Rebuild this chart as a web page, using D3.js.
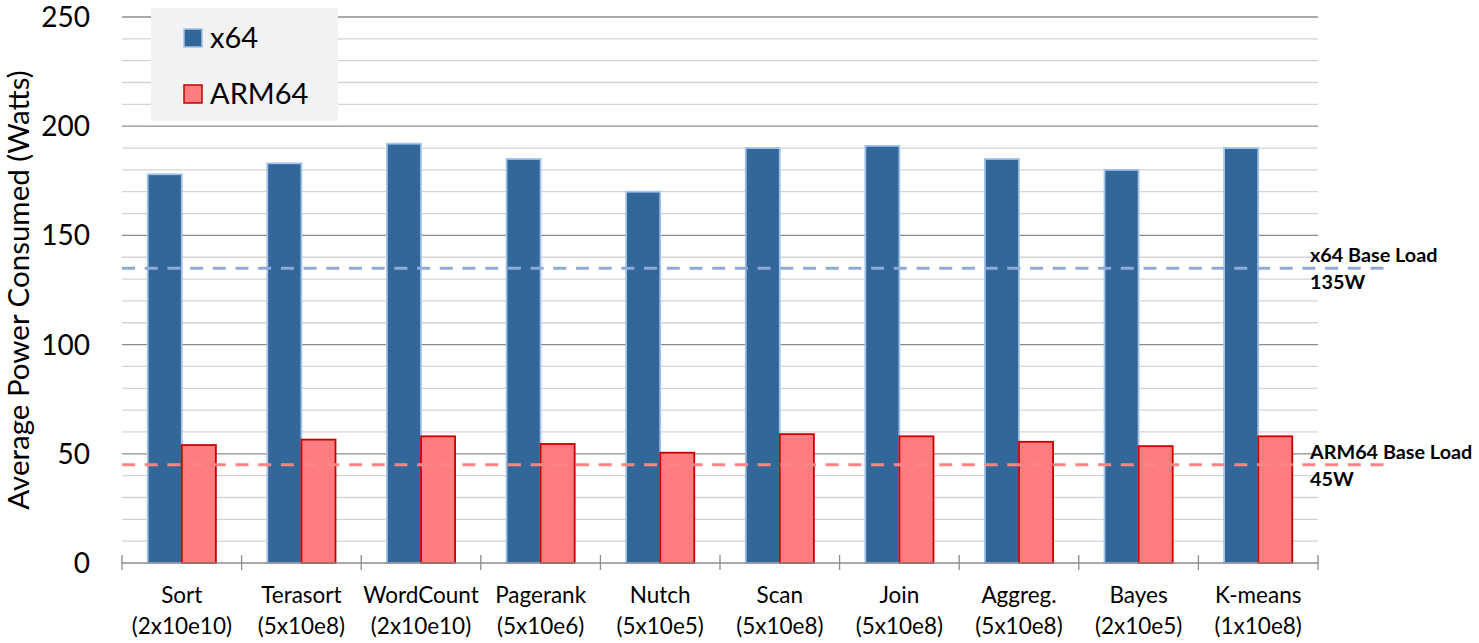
<!DOCTYPE html>
<html>
<head>
<meta charset="utf-8">
<script src="https://cdn.jsdelivr.net/npm/d3@7"></script>
<style>
  body { margin: 0; background: #fff; }
  svg { font-family: Lato, "Open Sans", sans-serif; }
</style>
</head>
<body>
<div id="chart"></div>
<script>
// data
var categories = ["Sort", "Terasort", "WordCount", "Pagerank", "Nutch", "Scan", "Join", "Aggreg.", "Bayes", "K-means"];
var sizes = ["(2x10e10)", "(5x10e8)", "(2x10e10)", "(5x10e6)", "(5x10e5)", "(5x10e8)", "(5x10e8)", "(5x10e8)", "(2x10e5)", "(1x10e8)"];
var x64 = [178, 183, 192, 185, 170, 190, 191, 185, 180, 190];
var arm64 = [54, 56.5, 58, 54.5, 50.5, 59, 58, 55.5, 53.5, 58];
var baseLoads = [
  { name: "x64 Base Load", label: "135W", value: 135, color: "#8eaadb" },
  { name: "ARM64 Base Load", label: "45W", value: 45, color: "#ff8585" }
];
var yTicks = [0, 50, 100, 150, 200, 250];

var width = 1479, height = 643;
var margin = { top: 17, right: 161, bottom: 80, left: 122 };
var chart_width = width - margin.left - margin.right;
var chart_height = 563 - margin.top;

var svg = d3.select("#chart").append("svg")
  .attr("width", width)
  .attr("height", height);

var g = svg.append("g").attr("transform", "translate(" + margin.left + "," + margin.top + ")");

var x = d3.scaleBand().domain(categories).range([0, chart_width]);
var y = d3.scaleLinear().domain([0, 250]).range([chart_height, 0]);
var barW = x.bandwidth() * 0.285;

// gridlines
g.selectAll(".grid")
  .data(d3.range(10, 251, 10))
  .enter().append("line")
  .attr("x1", 0).attr("x2", chart_width)
  .attr("y1", function(d) { return y(d); })
  .attr("y2", function(d) { return y(d); })
  .attr("stroke", function(d) { return d % 50 === 0 ? "#8c8c8c" : "#d4d4d4"; })
  .attr("stroke-width", 1.3);

// y labels
g.selectAll(".ylab")
  .data(yTicks)
  .enter().append("text")
  .attr("x", -32)
  .attr("y", function(d) { return y(d); })
  .attr("dy", "0.36em")
  .attr("text-anchor", "end")
  .attr("font-size", 28)
  .attr("fill", "#000")
  .text(function(d) { return d; });

svg.append("text")
  .attr("transform", "translate(19," + (margin.top + chart_height / 2) + ") rotate(-90)")
  .attr("text-anchor", "middle")
  .attr("dy", "0.35em")
  .attr("font-size", 29.5)
  .text("Average Power Consumed (Watts)");

// bars
var groups = g.selectAll(".cat")
  .data(categories)
  .enter().append("g")
  .attr("transform", function(d) { return "translate(" + (x(d) + x.bandwidth() / 2) + ",0)"; });

groups.append("rect")
  .attr("x", -barW)
  .attr("y", function(d, i) { return y(x64[i]); })
  .attr("width", barW)
  .attr("height", function(d, i) { return y(0) - y(x64[i]); })
  .attr("fill", "#336699")
  .attr("stroke", "#a3c4e8")
  .attr("stroke-width", 1.8);

groups.append("rect")
  .attr("x", 0)
  .attr("y", function(d, i) { return y(arm64[i]); })
  .attr("width", barW)
  .attr("height", function(d, i) { return y(0) - y(arm64[i]); })
  .attr("fill", "#ff7c80")
  .attr("stroke", "#c80000")
  .attr("stroke-width", 1.8);

// x axis
g.append("line")
  .attr("x1", 0).attr("x2", chart_width)
  .attr("y1", y(0)).attr("y2", y(0))
  .attr("stroke", "#8c8c8c").attr("stroke-width", 1.3);

var bounds = categories.map(function(d) { return x(d); }).concat([chart_width]);
g.selectAll(".tick")
  .data(bounds)
  .enter().append("line")
  .attr("x1", function(d) { return d; }).attr("x2", function(d) { return d; })
  .attr("y1", y(0) - 8).attr("y2", y(0) + 7)
  .attr("stroke", "#8c8c8c").attr("stroke-width", 1.3);

groups.append("text")
  .attr("y", chart_height + 40)
  .attr("text-anchor", "middle")
  .attr("font-size", 22.5)
  .text(function(d) { return d; });

groups.append("text")
  .attr("y", chart_height + 71)
  .attr("text-anchor", "middle")
  .attr("font-size", 22.5)
  .text(function(d, i) { return sizes[i]; });

// base load lines
baseLoads.forEach(function(b) {
  g.append("line")
    .attr("x1", 0).attr("x2", chart_width + 69)
    .attr("y1", y(b.value)).attr("y2", y(b.value))
    .attr("stroke", b.color)
    .attr("stroke-width", 3)
    .attr("stroke-dasharray", "13,9.7");
  g.append("text")
    .attr("x", chart_width - 8)
    .attr("y", y(b.value) - 6)
    .attr("font-size", 19.8)
    .attr("font-weight", "bold")
    .text(b.name);
  g.append("text")
    .attr("x", chart_width - 8)
    .attr("y", y(b.value) + 21)
    .attr("font-size", 19.8)
    .attr("font-weight", "bold")
    .text(b.label);
});

// legend
var legend = svg.append("g").attr("transform", "translate(151,8)");
legend.append("rect")
  .attr("width", 187).attr("height", 113)
  .attr("fill", "#f2f2f2");
var legendItems = [
  { name: "x64", fill: "#336699", stroke: "#a3c4e8" },
  { name: "ARM64", fill: "#ff7c80", stroke: "#c80000" }
];
legendItems.forEach(function(d, i) {
  legend.append("rect")
    .attr("x", 33).attr("y", 21 + i * 56)
    .attr("width", 18).attr("height", 18)
    .attr("fill", d.fill).attr("stroke", d.stroke).attr("stroke-width", 1.5);
  legend.append("text")
    .attr("x", 59).attr("y", 30 + i * 56)
    .attr("dy", "0.36em")
    .attr("font-size", 29)
    .text(d.name);
});
</script>
</body>
</html>
